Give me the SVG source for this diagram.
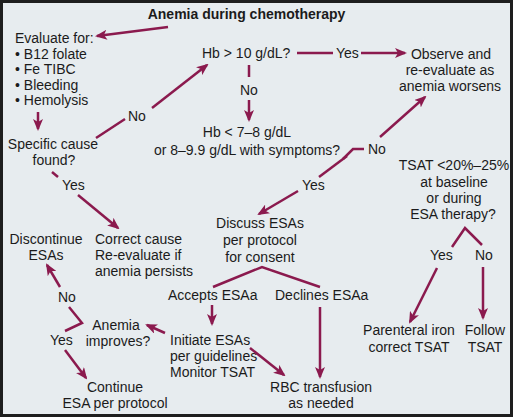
<svg xmlns="http://www.w3.org/2000/svg" width="514" height="418" viewBox="0 0 514 418">
<defs>
<style>
text{font-family:"Liberation Sans",Arial,sans-serif;font-size:14px;fill:#1b1b1b}
.t{font-weight:bold}
.m{text-anchor:middle}
.c line,.c polyline{stroke:#8b1a4e;stroke-width:2.5;fill:none}
.a{marker-end:url(#ah)}
</style>
<marker id="ah" viewBox="0 0 12 10" refX="10" refY="5" markerWidth="12" markerHeight="10" markerUnits="userSpaceOnUse" orient="auto">
<path d="M0,0 L12,5 L0,10 L3,5 z" fill="#8b1a4e"/>
</marker>
</defs>
<rect x="1.5" y="1.5" width="510" height="414" fill="#e7ecef" stroke="#1e1e1e" stroke-width="3"/>

<g id="title"><text class="t m" x="246.5" y="19">Anemia during chemotherapy</text></g>
<g id="evaluate">
<text x="15" y="43">Evaluate for:</text>
<text x="15" y="59">• B12 folate</text>
<text x="15" y="74">• Fe TIBC</text>
<text x="15" y="90">• Bleeding</text>
<text x="15" y="105">• Hemolysis</text>
</g>
<g id="specific"><text class="m" x="53" y="149">Specific cause</text><text class="m" x="54" y="165">found?</text></g>
<g id="hb10"><text x="202" y="58">Hb &gt; 10 g/dL?</text></g>
<g id="observe"><text class="m" x="451" y="59">Observe and</text><text class="m" x="450" y="75">re-evaluate as</text><text class="m" x="450" y="91">anemia worsens</text></g>
<g id="hb7"><text class="m" x="247" y="137">Hb &lt; 7–8 g/dL</text><text class="m" x="247" y="155">or 8–9.9 g/dL with symptoms?</text></g>
<g id="tsat"><text class="m" x="454" y="170">TSAT &lt;20%–25%</text><text class="m" x="454" y="187">at baseline</text><text class="m" x="454" y="203">or during</text><text class="m" x="453" y="219">ESA therapy?</text></g>
<g id="discuss"><text class="m" x="260" y="228">Discuss ESAs</text><text class="m" x="260" y="245">per protocol</text><text class="m" x="260" y="262">for consent</text></g>
<g id="discontinue"><text class="m" x="46" y="244">Discontinue</text><text class="m" x="46" y="260">ESAs</text></g>
<g id="correct"><text x="95" y="244">Correct cause</text><text x="95" y="260">Re-evaluate if</text><text x="95" y="276">anemia persists</text></g>
<g id="accepts"><text x="168" y="300">Accepts ESAa</text></g>
<g id="declines"><text x="275" y="300">Declines ESAa</text></g>
<g id="improves"><text class="m" x="116" y="330">Anemia</text><text class="m" x="118" y="346">improves?</text></g>
<g id="initiate"><text x="170" y="345">Initiate ESAs</text><text x="170" y="361">per guidelines</text><text x="170" y="377">Monitor TSAT</text></g>
<g id="continue"><text class="m" x="115" y="392">Continue</text><text class="m" x="115" y="408">ESA per protocol</text></g>
<g id="rbc"><text class="m" x="321" y="392">RBC transfusion</text><text class="m" x="321" y="408">as needed</text></g>
<g id="parenteral"><text class="m" x="409" y="335">Parenteral iron</text><text class="m" x="409" y="352">correct TSAT</text></g>
<g id="follow"><text class="m" x="485" y="335">Follow</text><text class="m" x="485" y="352">TSAT</text></g>

<g id="labels">
<text x="128" y="121">No</text>
<text x="336" y="58">Yes</text>
<text x="240" y="95">No</text>
<text x="368" y="154">No</text>
<text x="302" y="190">Yes</text>
<text x="62" y="190">Yes</text>
<text x="58" y="302">No</text>
<text x="50" y="345">Yes</text>
<text x="430" y="260">Yes</text>
<text x="475" y="260">No</text>
</g>

<g id="connectors" class="c">
<line class="a" x1="168" y1="27" x2="97" y2="36"/>
<line class="a" x1="38" y1="112" x2="38" y2="129"/>
<line x1="96" y1="138" x2="125" y2="119"/>
<line class="a" x1="152" y1="108" x2="207" y2="65"/>
<line x1="297" y1="53" x2="333" y2="53"/>
<line class="a" x1="361" y1="53" x2="405" y2="53"/>
<line x1="249" y1="65" x2="249" y2="77"/>
<line class="a" x1="249" y1="100" x2="249" y2="120"/>
<polyline points="343,159 353,149 364,149"/>
<line x1="347" y1="156" x2="319" y2="177"/>
<line class="a" x1="380" y1="137" x2="425" y2="97"/>
<line class="a" x1="298" y1="191" x2="259" y2="214"/>
<line x1="52" y1="172" x2="58" y2="177"/>
<line class="a" x1="78" y1="195" x2="118" y2="228"/>
<polyline points="213,287 262,267 320,287"/>
<line class="a" x1="212" y1="305" x2="212" y2="324"/>
<line class="a" x1="320" y1="307" x2="320" y2="377"/>
<line class="a" x1="165" y1="333" x2="147" y2="325"/>
<line class="a" x1="250" y1="348" x2="284" y2="375"/>
<polyline points="69,307 82,323 65,331"/>
<line class="a" x1="60" y1="287" x2="47" y2="265"/>
<line class="a" x1="65" y1="350" x2="86" y2="378"/>
<polyline points="452,247 465,228 482,245"/>
<line class="a" x1="437" y1="268" x2="410" y2="322"/>
<line class="a" x1="483" y1="267" x2="483" y2="318"/>
</g>
</svg>
